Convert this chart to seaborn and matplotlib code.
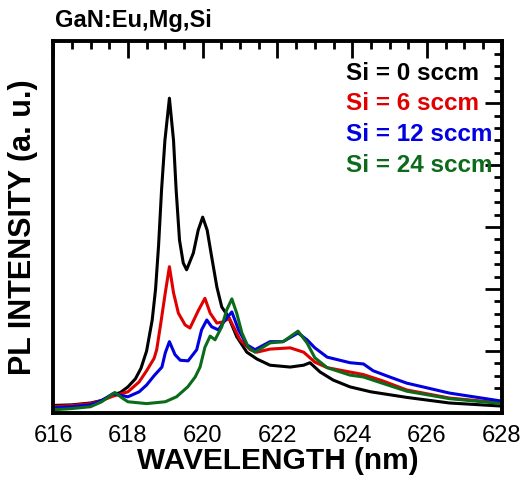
import numpy as np
import pandas as pd
import matplotlib
matplotlib.use('Agg')
import matplotlib.pyplot as plt
import seaborn as sns
from matplotlib.ticker import MultipleLocator

# Values (wavelength in nm, intensity in arb. units)
wl_si0 = [616.0, 616.5, 617.0, 617.3, 617.6, 617.8, 618.0, 618.2, 618.35, 618.5,
          618.65, 618.74, 618.82, 618.9, 618.99, 619.11, 619.22, 619.29, 619.38,
          619.48, 619.57, 619.75, 619.88, 620.0, 620.12, 620.24, 620.38, 620.51,
          620.69, 620.91, 621.18, 621.45, 621.8, 622.34, 622.7, 622.87, 623.14,
          623.49, 623.94, 624.5, 625.46, 626.6, 628.0]
int_si0 = [0.12, 0.13, 0.16, 0.2, 0.29, 0.33, 0.42, 0.55, 0.72, 1.0,
           1.5, 2.0, 2.7, 3.6, 4.4, 5.08, 4.4, 3.6, 2.79,
           2.42, 2.31, 2.58, 2.95, 3.16, 2.95, 2.52, 2.03, 1.71,
           1.55, 1.23, 0.98, 0.87, 0.77, 0.74, 0.77, 0.81, 0.66,
           0.53, 0.42, 0.34, 0.25, 0.16, 0.11]

wl_si6 = [616.0, 616.5, 617.0, 617.3, 617.6, 618.0, 618.3, 618.5, 618.7, 618.77,
          618.88, 619.0, 619.11, 619.22, 619.35, 619.53, 619.66, 619.89, 620.06,
          620.2, 620.38, 620.55, 620.71, 621.0, 621.27, 621.45, 621.8, 622.34,
          622.7, 623.0, 623.33, 623.94, 624.29, 624.8, 625.46, 626.6, 628.0]
int_si6 = [0.1, 0.12, 0.15, 0.2, 0.27, 0.34, 0.5, 0.68, 0.88, 1.02,
           1.45, 1.94, 2.36, 1.94, 1.61, 1.42, 1.37, 1.66, 1.85,
           1.61, 1.45, 1.47, 1.53, 1.18, 1.02, 0.98, 1.03, 1.05,
           0.98, 0.82, 0.73, 0.66, 0.62, 0.52, 0.37, 0.24, 0.16]

wl_si12 = [616.0, 616.5, 617.0, 617.3, 617.6, 618.0, 618.3, 618.5, 618.7, 618.91,
           619.0, 619.11, 619.26, 619.4, 619.61, 619.84, 619.97, 620.11, 620.24,
           620.42, 620.6, 620.78, 620.96, 621.18, 621.4, 621.8, 622.15, 622.55,
           622.79, 623.0, 623.33, 623.94, 624.3, 624.56, 625.0, 625.46, 626.6, 628.0]
int_si12 = [0.08, 0.1, 0.13, 0.2, 0.31, 0.26, 0.34, 0.45, 0.6, 0.74,
            0.97, 1.15, 0.94, 0.85, 0.84, 1.02, 1.34, 1.5, 1.39,
            1.34, 1.5, 1.63, 1.34, 1.1, 1.02, 1.15, 1.15, 1.29,
            1.18, 1.05, 0.9, 0.81, 0.79, 0.68, 0.58, 0.48, 0.32, 0.19]

wl_si24 = [616.0, 616.5, 617.0, 617.3, 617.65, 617.85, 618.0, 618.5, 619.0, 619.3,
           619.6, 619.8, 619.93, 620.06, 620.2, 620.33, 620.51, 620.64, 620.78,
           620.91, 621.05, 621.22, 621.4, 621.8, 622.15, 622.55, 622.79, 623.0,
           623.33, 623.94, 624.3, 624.8, 625.46, 626.6, 628.0]
int_si24 = [0.05, 0.07, 0.1, 0.18, 0.33, 0.24, 0.18, 0.15, 0.18, 0.26,
            0.42, 0.58, 0.74, 1.06, 1.24, 1.18, 1.39, 1.66, 1.84,
            1.61, 1.29, 1.06, 0.98, 1.13, 1.15, 1.32, 1.13, 0.89,
            0.73, 0.61, 0.58, 0.48, 0.35, 0.23, 0.15]

labels = ['Si = 0 sccm', 'Si = 6 sccm', 'Si = 12 sccm', 'Si = 24 sccm']
colors = ['#000000', '#e00000', '#0000e0', '#0b6b1b']

frames = []
for lab, wl, val in zip(labels,
                        [wl_si0, wl_si6, wl_si12, wl_si24],
                        [int_si0, int_si6, int_si12, int_si24]):
    frames.append(pd.DataFrame({'wl': wl, 'pl': val, 'sample': lab}))
df = pd.concat(frames, ignore_index=True)

sns.set_style('white')
plt.rcParams['font.family'] = ['Liberation Sans', 'DejaVu Sans']
plt.rcParams['text.color'] = 'black'
plt.rcParams['axes.labelcolor'] = 'black'
plt.rcParams['xtick.color'] = 'black'
plt.rcParams['ytick.color'] = 'black'

fig = plt.figure(figsize=(5.26, 4.79), dpi=100)
ax = fig.add_axes([0.101, 0.138, 0.853, 0.776])

for lab, col in zip(labels, colors):
    sns.lineplot(data=df[df['sample'] == lab], x='wl', y='pl', color=col,
                 linewidth=2.2, ax=ax, legend=False, sort=False)

ax.set_xlim(616, 628)
ax.set_ylim(0, 6)
ax.xaxis.set_major_locator(MultipleLocator(2))
ax.xaxis.set_minor_locator(MultipleLocator(0.5))
ax.yaxis.set_major_locator(MultipleLocator(1))
ax.yaxis.set_minor_locator(MultipleLocator(0.2))
ax.tick_params(which='both', direction='in', top=True, right=True,
               width=2, color='black')
ax.tick_params(which='major', length=12, labelsize=17, pad=9)
ax.tick_params(which='minor', length=6)
ax.set_yticklabels([])
for sp in ax.spines.values():
    sp.set_linewidth(2.8)
    sp.set_color('black')

ax.set_xlabel('WAVELENGTH (nm)', fontsize=21.5, fontweight='bold', labelpad=0)
ax.set_ylabel('PL INTENSITY (a. u.)', fontsize=22, fontweight='bold', labelpad=2)

for i, (lab, col) in enumerate(zip(labels, colors)):
    ax.text(0.653, 0.914 - i * 0.0825, lab, color=col, fontsize=17.5,
            fontweight='bold', transform=ax.transAxes, va='center', ha='left')

fig.text(0.104, 0.957, 'GaN:Eu,Mg,Si', fontsize=17, fontweight='bold',
         va='center', ha='left')

fig.savefig('out.png', dpi=100)
